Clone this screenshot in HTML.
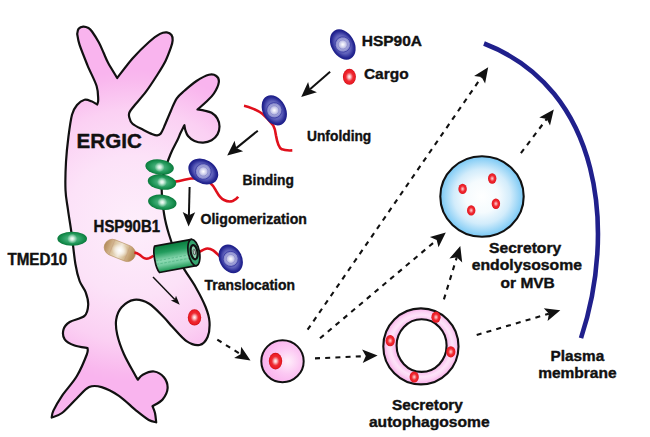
<!DOCTYPE html>
<html lang="en"><head><meta charset="utf-8"><title>HSP90A cargo translocation into ERGIC</title>
<style>
html,body{margin:0;padding:0;background:#fff;}
body{width:650px;height:437px;overflow:hidden;}
svg{display:block;}
svg text{font-family:"Liberation Sans",Arial,Helvetica,sans-serif;font-weight:bold;fill:#111;stroke:#111;stroke-width:0.4px;stroke-linejoin:round;}
</style></head><body>
<svg width="650" height="437" viewBox="0 0 650 437">
<defs>
<radialGradient id="gErgic" gradientUnits="userSpaceOnUse" cx="135" cy="226" r="156">
<stop offset="0" stop-color="#fdeefb"/><stop offset="0.45" stop-color="#fce2f8"/><stop offset="0.75" stop-color="#fbd0f3"/><stop offset="0.95" stop-color="#f9b8ee"/><stop offset="1" stop-color="#f9b4ee"/>
</radialGradient>
<radialGradient id="gBlue" cx="0.5" cy="0.5" r="0.5">
<stop offset="0" stop-color="#8a8cd0"/><stop offset="0.6" stop-color="#6062ba"/><stop offset="0.74" stop-color="#4244a8"/><stop offset="0.86" stop-color="#282a94"/><stop offset="1" stop-color="#1a1b86"/>
</radialGradient>
<radialGradient id="gBlueHi" cx="0.5" cy="0.5" r="0.5">
<stop offset="0" stop-color="#ffffff"/><stop offset="0.22" stop-color="#e4e4f5"/><stop offset="0.55" stop-color="#b4b5e0"/><stop offset="0.85" stop-color="#8e90cf"/><stop offset="1" stop-color="#7779c3"/>
</radialGradient>
<radialGradient id="gGreen" cx="0.5" cy="0.5" r="0.5">
<stop offset="0" stop-color="#7fd0a4"/><stop offset="0.35" stop-color="#43ad78"/><stop offset="0.7" stop-color="#1f9657"/><stop offset="1" stop-color="#0a7a3c"/>
</radialGradient>
<radialGradient id="gHi" cx="0.5" cy="0.5" r="0.5">
<stop offset="0" stop-color="#fff" stop-opacity="0.95"/><stop offset="0.35" stop-color="#e6f7ee" stop-opacity="0.8"/><stop offset="0.7" stop-color="#bfe8d2" stop-opacity="0.45"/><stop offset="1" stop-color="#bfe8d2" stop-opacity="0"/>
</radialGradient>
<radialGradient id="gRed" cx="0.5" cy="0.5" r="0.5">
<stop offset="0" stop-color="#fff2f2"/><stop offset="0.2" stop-color="#fbc4c6"/><stop offset="0.4" stop-color="#f36a72"/><stop offset="0.56" stop-color="#ee2a32"/><stop offset="0.85" stop-color="#ec1c24"/><stop offset="1" stop-color="#c90d17"/>
</radialGradient>
<radialGradient id="gRedS" cx="0.5" cy="0.5" r="0.5">
<stop offset="0" stop-color="#ffd8d8"/><stop offset="0.3" stop-color="#f77a80"/><stop offset="0.55" stop-color="#ee2a32"/><stop offset="0.85" stop-color="#ec1c24"/><stop offset="1" stop-color="#cf0e18"/>
</radialGradient>
<radialGradient id="gVes" cx="0.62" cy="0.5" r="0.6">
<stop offset="0" stop-color="#fff0fb"/><stop offset="0.5" stop-color="#fcc9f3"/><stop offset="1" stop-color="#fab0ee"/>
</radialGradient>
<radialGradient id="gEndo" cx="0.5" cy="0.5" r="0.5">
<stop offset="0" stop-color="#ffffff"/><stop offset="0.4" stop-color="#f5fbfe"/><stop offset="0.68" stop-color="#d2ecfb"/><stop offset="0.88" stop-color="#9bd6f7"/><stop offset="1" stop-color="#78c8f5"/>
</radialGradient>
<radialGradient id="gRing" gradientUnits="userSpaceOnUse" cx="421.3" cy="346" r="38.5">
<stop offset="0.64" stop-color="#f8aee9"/><stop offset="0.8" stop-color="#fde3f8"/><stop offset="0.88" stop-color="#fcd4f4"/><stop offset="1" stop-color="#f7a6e6"/>
</radialGradient>
<linearGradient id="gCyl" x1="0" y1="0" x2="0" y2="1">
<stop offset="0" stop-color="#077a3b"/><stop offset="0.28" stop-color="#229c5d"/><stop offset="0.58" stop-color="#8cd9b2"/><stop offset="0.75" stop-color="#74cda0"/><stop offset="1" stop-color="#17934f"/>
</linearGradient>
<linearGradient id="gCap" x1="0" y1="0" x2="1" y2="0">
<stop offset="0" stop-color="#b08a5c"/><stop offset="0.12" stop-color="#c4a074"/><stop offset="0.3" stop-color="#dcc6a2"/><stop offset="0.5" stop-color="#efe6d6"/><stop offset="0.7" stop-color="#d6bc94"/><stop offset="0.88" stop-color="#bc9766"/><stop offset="1" stop-color="#ab8352"/>
</linearGradient>
<radialGradient id="gCapHi" cx="0.5" cy="0.5" r="0.5"><stop offset="0" stop-color="#fff" stop-opacity="1"/><stop offset="0.5" stop-color="#fff" stop-opacity="0.6"/><stop offset="1" stop-color="#fff" stop-opacity="0"/></radialGradient>
</defs>
<rect width="650" height="437" fill="#fff"/>

<path d="M77.2 34.0C77.4 33.1 77.6 30.0 78.6 28.8C79.6 27.6 81.5 26.7 83.2 26.6C84.9 26.5 87.0 27.2 88.5 28.0C90.0 28.8 90.3 29.1 92.0 31.5C93.7 33.9 97.0 39.0 98.9 42.5C100.8 46.0 102.0 49.4 103.6 52.8C105.1 56.2 105.9 58.8 108.2 63.0C110.5 67.2 115.7 75.5 117.2 78.0C119.8 74.8 127.2 64.5 132.5 58.5C137.8 52.5 144.4 46.1 149.0 42.0C153.6 37.9 157.0 35.5 160.0 33.9C163.0 32.3 164.9 32.2 166.8 32.4C168.7 32.6 170.5 33.6 171.5 35.0C172.5 36.4 172.7 38.5 172.6 40.6C172.5 42.7 172.1 44.1 170.9 47.5C169.7 50.9 167.7 56.6 165.4 61.2C163.1 65.8 160.4 70.0 157.2 75.0C154.0 80.0 150.3 86.0 146.2 91.4C142.1 96.8 135.6 104.0 132.8 107.5C130.0 111.0 130.0 110.9 129.4 112.5C128.8 114.1 128.7 115.1 129.2 117.0C129.7 118.9 130.1 121.6 132.5 123.8C134.9 126.0 140.2 128.2 143.5 129.9C146.8 131.6 150.2 133.3 152.5 134.2C154.8 135.1 155.8 135.4 157.2 135.3C158.6 135.2 159.7 134.9 160.8 133.5C161.9 132.1 162.3 130.9 164.0 127.1C165.7 123.3 168.8 115.5 170.9 110.7C173.0 105.9 174.5 101.7 176.8 98.3C179.1 94.9 181.4 93.4 184.7 90.5C188.0 87.6 192.5 83.6 196.5 81.0C200.5 78.4 205.6 75.6 208.9 74.8C212.2 74.0 214.7 74.8 216.3 76.0C218.0 77.2 219.2 79.4 218.8 82.3C218.4 85.2 216.0 90.2 213.9 93.5C211.8 96.8 208.7 99.3 206.0 102.0C203.3 104.7 198.9 108.2 197.5 109.5C198.7 109.7 202.2 110.0 204.5 110.6C206.8 111.1 209.5 111.5 211.6 112.8C213.7 114.1 216.0 116.1 217.3 118.4C218.6 120.7 219.5 123.7 219.5 126.4C219.5 129.1 218.8 132.1 217.5 134.4C216.2 136.7 214.0 138.8 211.6 140.2C209.2 141.6 206.0 142.5 203.2 142.6C200.3 142.7 197.0 142.1 194.5 141.0C192.0 139.9 189.5 137.8 188.0 136.0C186.5 134.2 185.9 131.8 185.3 130.0C184.7 128.2 184.6 126.0 184.4 125.2C183.8 126.5 181.7 130.5 180.5 133.0C179.3 135.5 179.2 136.5 177.5 140.0C175.8 143.5 172.9 148.3 170.6 154.0C168.3 159.7 165.1 168.0 163.6 174.0C162.1 180.0 161.6 183.2 161.7 190.0C161.8 196.8 163.0 207.3 164.2 214.7C165.4 222.1 167.0 227.9 169.0 234.5C171.0 241.1 173.4 248.1 176.0 254.0C178.6 259.9 181.3 264.4 184.6 269.9C187.9 275.4 192.2 281.0 195.7 287.2C199.2 293.4 203.3 301.2 205.6 307.0C207.9 312.8 209.2 316.8 209.5 321.8C209.8 326.8 209.3 333.1 207.6 337.0C205.9 340.9 203.0 344.3 199.5 345.0C196.0 345.7 191.0 344.2 186.5 341.2C182.0 338.2 176.1 330.8 172.3 326.8C168.5 322.8 167.5 320.9 163.6 317.0C159.7 313.1 153.7 306.4 148.8 303.5C143.9 300.6 138.5 299.2 134.0 299.8C129.5 300.4 124.6 303.9 121.6 307.2C118.6 310.5 116.9 315.1 116.2 319.6C115.5 324.1 115.9 328.6 117.2 334.4C118.5 340.2 121.0 347.4 124.0 354.2C127.0 361.0 132.9 370.9 135.2 375.2C137.5 379.4 137.4 378.9 137.9 379.7C138.7 378.9 140.1 376.1 142.8 374.7C145.5 373.3 150.5 371.1 154.0 371.5C157.5 371.9 161.6 374.4 163.9 377.2C166.2 380.0 167.8 384.6 167.6 388.3C167.4 392.0 165.1 396.5 162.6 399.5C160.1 402.5 154.2 405.0 152.5 406.1C152.9 407.2 154.4 410.3 155.0 413.0C155.6 415.7 156.0 420.8 156.2 422.3C155.0 421.9 152.1 421.9 148.8 420.0C145.5 418.1 141.2 414.6 136.2 410.6C131.2 406.6 124.7 399.7 118.9 395.8C113.1 391.9 106.5 388.6 101.6 387.1C96.6 385.7 93.3 385.2 89.2 387.1C85.1 389.0 81.4 393.9 76.9 398.2C72.4 402.5 66.2 409.8 62.0 413.0C57.8 416.2 53.4 416.8 51.7 417.5C52.0 416.4 51.7 414.2 53.4 410.6C55.1 407.0 58.1 401.6 62.0 395.8C65.9 390.0 72.8 382.9 76.9 376.0C81.0 369.1 85.0 359.2 86.8 354.5C88.6 349.8 87.4 349.1 87.5 348.0C85.3 347.6 78.4 346.9 74.6 345.5C70.8 344.1 66.5 342.0 64.7 339.3C62.9 336.6 62.7 332.4 63.5 329.5C64.3 326.6 66.2 324.3 69.7 322.0C73.2 319.7 81.4 318.8 84.5 315.9C87.6 313.0 88.0 308.6 88.2 304.7C88.4 300.8 87.1 296.3 85.7 292.4C84.3 288.4 81.3 285.7 79.6 281.0C77.9 276.3 76.7 271.8 75.4 264.0C74.1 256.2 72.9 243.5 71.7 234.5C70.5 225.5 69.0 217.2 68.0 209.8C67.0 202.4 65.8 198.0 65.5 190.0C65.2 182.0 65.5 170.6 66.0 161.8C66.5 153.0 67.4 144.8 68.4 137.0C69.4 129.2 70.6 120.1 72.0 114.8C73.4 109.5 74.9 107.5 77.0 105.0C79.1 102.5 82.1 100.4 84.5 99.8C86.9 99.2 89.4 100.5 91.5 101.3C93.6 102.1 96.2 104.0 97.2 104.5C97.4 103.7 98.3 102.6 98.2 99.5C98.1 96.4 98.4 91.7 96.6 86.0C94.8 80.3 90.3 72.2 87.5 65.3C84.7 58.4 81.2 49.9 79.5 44.7C77.8 39.5 77.6 35.8 77.2 34.0Z" fill="url(#gErgic)" stroke="#111" stroke-width="2.2" stroke-linejoin="round"/>

<path d="M484 43.5C602.4 89.1 616.2 231.7 581 338.1" fill="none" stroke="#20208c" stroke-width="4.6"/>

<g transform="translate(342.8 44.5) rotate(-30.0)"><ellipse rx="11.5" ry="16.2" fill="url(#gBlue)"/><circle r="7.7" fill="url(#gBlueHi)" stroke="#3436a0" stroke-width="0.7"/><circle r="4.6" fill="none" stroke="#5d5fb6" stroke-width="0.5" opacity="0.7"/></g>
<ellipse cx="349.4" cy="76.8" rx="6.5" ry="8.0" fill="url(#gRed)"/>
<text x="361.7" y="45.5" font-size="15.5" text-anchor="start" textLength="60.3" lengthAdjust="spacingAndGlyphs">HSP90A</text>
<text x="363.9" y="78.5" font-size="15.5" text-anchor="start" textLength="44.7" lengthAdjust="spacingAndGlyphs">Cargo</text>
<line x1="330.1" y1="71.8" x2="310.0" y2="89.3" stroke="#111" stroke-width="2.00"/><polygon points="301.2,97.0 308.1,82.1 310.0,89.3 316.9,92.2" fill="#111"/>
<line x1="257.8" y1="130.7" x2="236.3" y2="148.1" stroke="#111" stroke-width="2.00"/><polygon points="227.2,155.4 234.6,140.7 236.3,148.1 243.1,151.2" fill="#111"/>
<line x1="189.6" y1="186.9" x2="188.9" y2="215.3" stroke="#111" stroke-width="2.00"/><polygon points="188.6,226.6 182.7,211.9 188.9,215.3 195.2,212.3" fill="#111"/>
<line x1="153.0" y1="277.0" x2="174.8" y2="299.6" stroke="#111" stroke-width="1.50"/><polygon points="179.7,304.7 170.9,300.6 174.8,299.6 176.0,295.8" fill="#111"/>
<path d="M244 105.8C248 106.5 251 107.8 254.3 109.2C258 110.8 260.5 112.3 262.3 113.8C266 117 270 121 273.1 125.2C275 128.5 275.6 132 276 135.5C276.6 139 277.2 142 278.4 144.7C279.3 147 280.3 148.5 281.8 149.2C284.5 150.6 288 150.6 292.3 150.4" fill="none" stroke="#e0101c" stroke-width="2.6"/>
<g transform="translate(274.3 110.3) rotate(-28.0)"><ellipse rx="11.5" ry="16.0" fill="url(#gBlue)"/><circle r="7.7" fill="url(#gBlueHi)" stroke="#3436a0" stroke-width="0.7"/><circle r="4.6" fill="none" stroke="#5d5fb6" stroke-width="0.5" opacity="0.7"/></g>
<text x="307.0" y="141.1" font-size="15.2" text-anchor="start" textLength="64.3" lengthAdjust="spacingAndGlyphs">Unfolding</text>
<path d="M175.1 181.6C182 181 186 179 191 178.5C200 178 206 180 210.5 183.2C214 186 215 189 216.7 191.8C219 196 221 198.5 224.1 200C227 201.5 230 201.8 232.7 201C235 200 237 198.5 238.2 196.8" fill="none" stroke="#e0101c" stroke-width="2.6"/>
<g transform="translate(159.6 167.1) rotate(7.0)"><ellipse rx="14.3" ry="7.6" fill="url(#gGreen)"/><circle cx="0" cy="0" r="5" fill="url(#gHi)"/></g>
<g transform="translate(162.0 182.1) rotate(7.0)"><ellipse rx="14.3" ry="7.6" fill="url(#gGreen)"/><circle cx="0" cy="0" r="5" fill="url(#gHi)"/></g>
<g transform="translate(162.3 202.3) rotate(7.0)"><ellipse rx="14.3" ry="7.6" fill="url(#gGreen)"/><circle cx="0" cy="0" r="5" fill="url(#gHi)"/></g>
<g transform="translate(203.3 171.5) rotate(30.0)"><ellipse rx="15.8" ry="11.8" fill="url(#gBlue)"/><circle r="7.9" fill="url(#gBlueHi)" stroke="#3436a0" stroke-width="0.7"/><circle r="4.7" fill="none" stroke="#5d5fb6" stroke-width="0.5" opacity="0.7"/></g>
<text x="242.6" y="185.0" font-size="15.2" text-anchor="start" textLength="51.4" lengthAdjust="spacingAndGlyphs">Binding</text>
<text x="200.5" y="224.1" font-size="15.2" text-anchor="start" textLength="106.4" lengthAdjust="spacingAndGlyphs">Oligomerization</text>
<g transform="translate(72.2 238.7) rotate(0.0)"><ellipse rx="14.8" ry="7.0" fill="url(#gGreen)"/><circle cx="0" cy="0" r="5" fill="url(#gHi)"/></g>
<text x="7.4" y="264.7" font-size="15.6" text-anchor="start" textLength="59.9" lengthAdjust="spacingAndGlyphs">TMED10</text>
<text x="93.6" y="232.0" font-size="15.6" text-anchor="start" textLength="66.4" lengthAdjust="spacingAndGlyphs">HSP90B1</text>
<text x="76.6" y="147.5" font-size="19.6" text-anchor="start" textLength="65.3" lengthAdjust="spacingAndGlyphs">ERGIC</text>
<g transform="translate(119.8 250.4) rotate(22)"><rect x="-16.2" y="-8.1" width="32.4" height="16.2" rx="8.1" ry="8.1" fill="url(#gCap)"/><path d="M-8.5 -8V8M8 -8V8" stroke="#c0937a" stroke-width="0.8" opacity="0.45"/><ellipse cx="0" cy="0" rx="8.5" ry="6.5" fill="url(#gCapHi)"/><rect x="-16.2" y="-8.1" width="32.4" height="16.2" rx="8.1" ry="8.1" fill="none" stroke="#b48c58" stroke-width="0.8" opacity="0.7"/></g>
<path d="M134.4 252.6C136.5 253 138 253.7 139.3 254.5C141.5 256 142.5 257.5 144.2 258.2C146 258.9 147.7 258.8 149.2 258.2C151 257.4 152.3 256.6 153.5 255.8" fill="none" stroke="#e0101c" stroke-width="2.5"/>
<path d="M197 252.8C200.5 252 203 249.3 206 248.7C208.8 248.2 211 249 213.2 250.4C215.5 252 217.5 254.2 220 256.6" fill="none" stroke="#e0101c" stroke-width="2.5"/>
<g transform="translate(176.2 255.8) rotate(-10.5)"><path d="M-19.5 -13.4L18 -13.4L18 13.4L-19.5 13.4C-22.6 8.5 -22.6 -8.5 -19.5 -13.4Z" fill="url(#gCyl)" stroke="#111" stroke-width="1.7" stroke-linejoin="round"/><path d="M-21 1.5H13M-21 4.8H13" stroke="#3aa873" stroke-width="0.6" stroke-dasharray="2.5 1.5" opacity="0.8"/><ellipse cx="18" cy="0" rx="5.6" ry="13.4" fill="#35a56f" stroke="#111" stroke-width="1.7"/><ellipse cx="18.3" cy="-0.3" rx="3.3" ry="7.2" fill="#8fd3b0" stroke="#111" stroke-width="2.2"/><ellipse cx="18.5" cy="-0.3" rx="1.1" ry="2.8" fill="#cfd8d3" stroke="#333" stroke-width="0.7"/></g>
<g transform="translate(230.7 258.9) rotate(-27.0)"><ellipse rx="11.3" ry="15.1" fill="url(#gBlue)"/><circle r="7.6" fill="url(#gBlueHi)" stroke="#3436a0" stroke-width="0.7"/><circle r="4.5" fill="none" stroke="#5d5fb6" stroke-width="0.5" opacity="0.7"/></g>
<text x="204.5" y="290.0" font-size="15.2" text-anchor="start" textLength="90.5" lengthAdjust="spacingAndGlyphs">Translocation</text>
<ellipse cx="194.5" cy="317.4" rx="6.7" ry="8.1" fill="url(#gRed)"/>
<ellipse cx="282.5" cy="361.2" rx="21.2" ry="21" fill="url(#gVes)" stroke="#111" stroke-width="2"/>
<ellipse cx="275.5" cy="361.1" rx="6.7" ry="8.3" fill="url(#gRed)"/>
<line x1="217.3" y1="339.6" x2="240.5" y2="354.2" stroke="#111" stroke-width="2.10" stroke-dasharray="5 5.2"/><polygon points="250.5,360.5 234.1,358.1 240.5,354.2 241.2,346.7" fill="#111"/>
<line x1="307.6" y1="329.7" x2="481.5" y2="77.1" stroke="#111" stroke-width="2.10" stroke-dasharray="5 5.2"/><polygon points="488.2,67.3 485.1,83.6 481.5,77.1 474.1,76.0" fill="#111"/>
<line x1="320.0" y1="338.3" x2="436.7" y2="240.0" stroke="#111" stroke-width="2.10" stroke-dasharray="5 5.2"/><polygon points="445.8,232.4 438.5,247.3 436.7,240.0 429.9,237.1" fill="#111"/>
<line x1="315.0" y1="358.4" x2="365.8" y2="356.1" stroke="#111" stroke-width="2.10" stroke-dasharray="5 5.2"/><polygon points="377.6,355.6 362.7,363.0 365.8,356.1 362.1,349.6" fill="#111"/>
<line x1="520.9" y1="153.2" x2="546.7" y2="118.9" stroke="#111" stroke-width="2.10" stroke-dasharray="5 5.2"/><polygon points="553.8,109.4 550.0,125.6 546.7,118.9 539.3,117.5" fill="#111"/>
<line x1="443.9" y1="299.4" x2="456.8" y2="257.3" stroke="#111" stroke-width="2.10" stroke-dasharray="5 5.2"/><polygon points="460.3,246.0 462.2,262.5 456.8,257.3 449.4,258.6" fill="#111"/>
<line x1="476.7" y1="335.0" x2="548.9" y2="313.7" stroke="#111" stroke-width="2.10" stroke-dasharray="5 5.2"/><polygon points="560.3,310.3 547.6,321.0 548.9,313.7 543.8,308.2" fill="#111"/>
<ellipse cx="482" cy="196.5" rx="41.7" ry="40.3" fill="url(#gEndo)" stroke="#111" stroke-width="2.1"/>
<ellipse cx="462.6" cy="188.9" rx="4.2" ry="5.2" fill="url(#gRedS)"/>
<ellipse cx="492.2" cy="178.5" rx="4.2" ry="5.2" fill="url(#gRedS)"/>
<ellipse cx="495.9" cy="203.7" rx="4.2" ry="5.2" fill="url(#gRedS)"/>
<ellipse cx="471.2" cy="210.4" rx="4.2" ry="5.2" fill="url(#gRedS)"/>
<text x="489.0" y="253.1" font-size="14.9" text-anchor="start" textLength="72.2" lengthAdjust="spacingAndGlyphs">Secretory</text>
<text x="471.7" y="269.7" font-size="14.9" text-anchor="start" textLength="110.3" lengthAdjust="spacingAndGlyphs">endolysosome</text>
<text x="500.6" y="287.6" font-size="14.9" text-anchor="start" textLength="54.2" lengthAdjust="spacingAndGlyphs">or MVB</text>
<ellipse cx="420.9" cy="346.4" rx="37.6" ry="38" fill="url(#gRing)" stroke="#111" stroke-width="2.1"/>
<ellipse cx="421.6" cy="345.6" rx="25" ry="26.3" fill="#fff" stroke="#111" stroke-width="2.1"/>
<ellipse cx="436.0" cy="317.2" rx="4.6" ry="5.6" fill="url(#gRedS)"/>
<ellipse cx="390.2" cy="340.7" rx="4.6" ry="5.6" fill="url(#gRedS)"/>
<ellipse cx="450.8" cy="351.8" rx="4.6" ry="5.6" fill="url(#gRedS)"/>
<ellipse cx="414.2" cy="377.0" rx="4.6" ry="5.6" fill="url(#gRedS)"/>
<text x="391.9" y="410.1" font-size="14.9" text-anchor="start" textLength="71.0" lengthAdjust="spacingAndGlyphs">Secretory</text>
<text x="368.9" y="427.1" font-size="14.9" text-anchor="start" textLength="120.7" lengthAdjust="spacingAndGlyphs">autophagosome</text>
<text x="550.6" y="360.9" font-size="14.9" text-anchor="start" textLength="53.6" lengthAdjust="spacingAndGlyphs">Plasma</text>
<text x="538.2" y="377.7" font-size="14.9" text-anchor="start" textLength="78.4" lengthAdjust="spacingAndGlyphs">membrane</text>

</svg>
</body></html>
